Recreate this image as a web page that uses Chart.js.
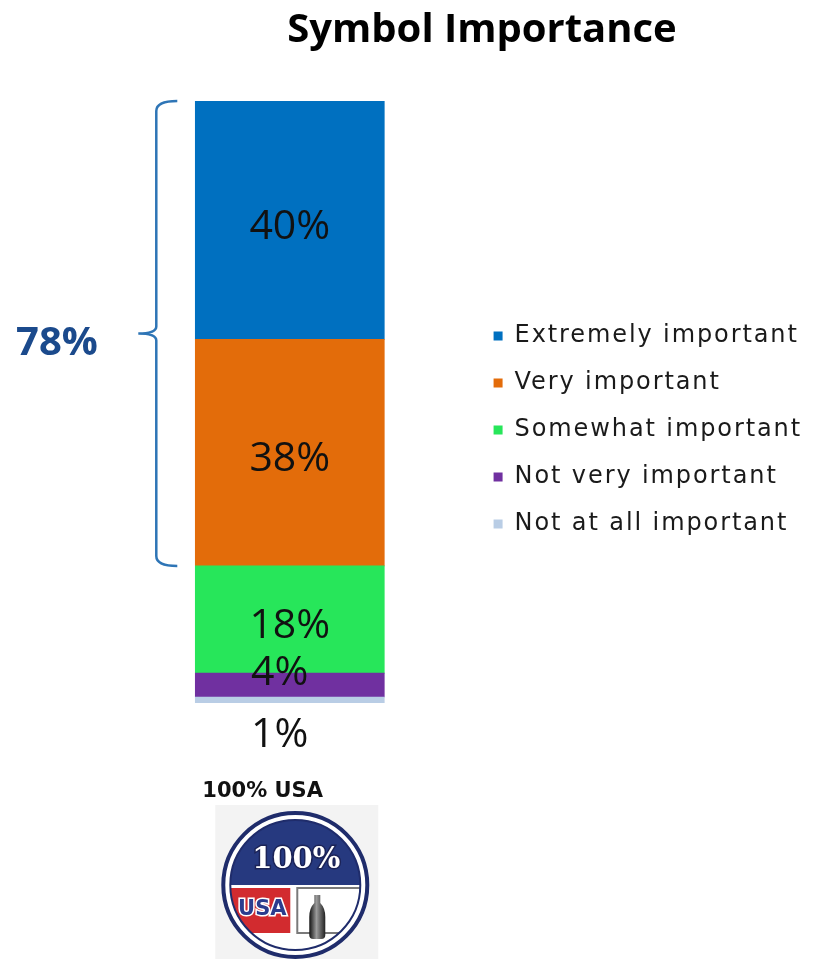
<!DOCTYPE html>
<html lang="en">
<head>
<meta charset="UTF-8">
<title>Symbol Importance</title>
<script src="https://cdn.jsdelivr.net/npm/chart.js"></script>
<style>
    html, body { margin: 0; padding: 0; background: #fff; }
    #wrap { width: 817px; height: 959px; }
</style>
</head>
<body>
<div id="wrap">
    <canvas id="symbolChart" width="817" height="959"></canvas>
</div>
<script>
// one bar, stacked bottom-up
const categories = ['100% USA'];
const levels = ['Not at all important', 'Not very important', 'Somewhat important', 'Very important', 'Extremely important'];
const shares = [1, 4, 18, 38, 40];
const levelColors = ['#B9CDE5', '#7030A0', '#27E65A', '#E36C0A', '#0070C0'];

const chartTitle = 'Symbol Importance';
const bracketFrom = 3; // bracket groups "Very" + "Extremely"
const legendSpacing = '1.9px';

const total = shares.reduce((a, b) => a + b, 0);

// text inside / next to each segment
const segmentLabels = {
    id: 'segmentLabels',
    afterDatasetsDraw(chart) {
        const ctx = chart.ctx;
        ctx.save();
        ctx.letterSpacing = '0px';
        ctx.font = '41px "Open Sans"';
        ctx.fillStyle = '#111';
        ctx.textAlign = 'center';
        ctx.textBaseline = 'middle';
        chart.data.datasets.forEach((ds, i) => {
            const bar = chart.getDatasetMeta(i).data[0];
            const h = bar.base - bar.y;
            let x = bar.x;
            let y = (bar.y + bar.base) / 2 + 7;
            if (h < 40) {
                x -= 10;
                y = i === 0 ? bar.base + 32 : bar.y;
            }
            ctx.fillText(ds.data[0] + '%', x, y);
        });
        ctx.restore();
    }
};

function drawBadge(ctx, cx, cy, r) {
    ctx.save();
    ctx.fillStyle = '#F3F3F3';
    ctx.fillRect(cx - 80, cy - 80, 163, 160);

    ctx.beginPath();
    ctx.arc(cx, cy, r, 0, Math.PI * 2);
    ctx.fillStyle = '#fff';
    ctx.fill();
    ctx.lineWidth = 4;
    ctx.strokeStyle = '#1F2C6B';
    ctx.stroke();

    const ri = r - 7;
    ctx.save();
    ctx.beginPath();
    ctx.arc(cx, cy, ri, 0, Math.PI * 2);
    ctx.clip();
    ctx.fillStyle = '#26397F';
    ctx.fillRect(cx - ri, cy - ri, 2 * ri, ri);
    ctx.fillStyle = '#D22B2F';
    ctx.fillRect(cx - ri, cy + 3, ri - 5, 45);
    // frame of the bottle panel
    ctx.strokeStyle = '#7a7a7a';
    ctx.lineWidth = 2;
    ctx.beginPath();
    ctx.moveTo(cx + r, cy + 3);
    ctx.lineTo(cx + 2, cy + 3);
    ctx.lineTo(cx + 2, cy + 48);
    ctx.lineTo(cx + r, cy + 48);
    ctx.stroke();
    ctx.restore();

    ctx.beginPath();
    ctx.arc(cx, cy, ri, 0, Math.PI * 2);
    ctx.lineWidth = 2;
    ctx.strokeStyle = '#1F2C6B';
    ctx.stroke();

    ctx.textAlign = 'center';
    ctx.textBaseline = 'middle';
    ctx.font = 'bold 29px "DejaVu Serif"';
    ctx.lineWidth = 3;
    ctx.strokeStyle = '#1B2357';
    ctx.strokeText('100%', cx + 1, cy - 25);
    ctx.fillStyle = '#fff';
    ctx.fillText('100%', cx + 1, cy - 25);

    ctx.font = 'bold 21px "DejaVu Sans"';
    ctx.lineWidth = 3;
    ctx.strokeStyle = '#fff';
    ctx.strokeText('USA', cx - 33, cy + 25);
    ctx.fillStyle = '#2B3C8E';
    ctx.fillText('USA', cx - 33, cy + 25);

    // bottle
    const bx = cx + 22, top = cy + 10;
    const g = ctx.createLinearGradient(bx - 8, 0, bx + 8, 0);
    g.addColorStop(0, '#111');
    g.addColorStop(0.45, '#9a9a9a');
    g.addColorStop(1, '#222');
    ctx.beginPath();
    ctx.moveTo(bx - 3, top);
    ctx.lineTo(bx + 3, top);
    ctx.lineTo(bx + 3, top + 8);
    ctx.quadraticCurveTo(bx + 8, top + 13, bx + 8, top + 22);
    ctx.lineTo(bx + 8, top + 40);
    ctx.quadraticCurveTo(bx + 8, top + 44, bx + 4, top + 44);
    ctx.lineTo(bx - 4, top + 44);
    ctx.quadraticCurveTo(bx - 8, top + 44, bx - 8, top + 40);
    ctx.lineTo(bx - 8, top + 22);
    ctx.quadraticCurveTo(bx - 8, top + 13, bx - 3, top + 8);
    ctx.closePath();
    ctx.fillStyle = g;
    ctx.fill();
    ctx.restore();
}

// title, bracket with the combined share, category label and badge
const decorations = {
    id: 'decorations',
    beforeLayout(chart) {
        chart.ctx.letterSpacing = legendSpacing; // legend measures spaced text
    },
    beforeDraw(chart) {
        chart.ctx.letterSpacing = legendSpacing;
    },
    afterDraw(chart) {
        const ctx = chart.ctx;
        ctx.save();
        ctx.letterSpacing = '0px';

        ctx.font = 'bold 40px "Open Sans"';
        ctx.fillStyle = '#000';
        ctx.textAlign = 'center';
        ctx.textBaseline = 'middle';
        ctx.fillText(chartTitle, 482, 31);

        const n = chart.data.datasets.length;
        const topBar = chart.getDatasetMeta(n - 1).data[0];
        const lowBar = chart.getDatasetMeta(bracketFrom).data[0];
        const y0 = topBar.y, y1 = lowBar.base, mid = (y0 + y1) / 2;
        const xl = topBar.x - topBar.width / 2 - 39;
        ctx.strokeStyle = '#2E75B6';
        ctx.lineWidth = 2.5;
        ctx.beginPath();
        ctx.moveTo(xl + 21, y0);
        ctx.quadraticCurveTo(xl, y0, xl, y0 + 10);
        ctx.lineTo(xl, mid - 7);
        ctx.quadraticCurveTo(xl, mid, xl - 18, mid);
        ctx.quadraticCurveTo(xl, mid, xl, mid + 7);
        ctx.lineTo(xl, y1 - 10);
        ctx.quadraticCurveTo(xl, y1, xl + 21, y1);
        ctx.stroke();

        let combined = 0;
        for (let i = bracketFrom; i < n; i++) combined += chart.data.datasets[i].data[0];
        ctx.font = 'bold 40px "Open Sans"';
        ctx.fillStyle = '#1B4A8C';
        ctx.fillText(combined + '%', 57, mid + 10);

        ctx.font = 'bold 21px "DejaVu Sans"';
        ctx.fillStyle = '#111';
        ctx.textAlign = 'left';
        ctx.textBaseline = 'alphabetic';
        ctx.fillText(chart.data.labels[0], topBar.x - topBar.width / 2 + 7, 797);

        drawBadge(ctx, topBar.x + 5.5, 885, 72);
        ctx.restore();
    }
};

const ctx = document.getElementById('symbolChart').getContext('2d');
new Chart(ctx, {
    type: 'bar',
    data: {
        labels: categories,
        datasets: levels.map((name, i) => ({
            label: name,
            data: [shares[i]],
            backgroundColor: levelColors[i],
            borderWidth: 0,
            barThickness: 189
        }))
    },
    options: {
        responsive: false,
        animation: false,
        events: [],
        layout: {
            padding: { top: 101, bottom: 256, left: 109, right: 5 }
        },
        scales: {
            x: { stacked: true, display: false },
            y: { stacked: true, display: false, min: 0, max: total }
        },
        plugins: {
            tooltip: { enabled: false },
            legend: {
                position: 'right',
                reverse: true,
                title: { display: true, text: '', font: { size: 12, lineHeight: 1 }, padding: { top: 44, bottom: 0 } },
                labels: {
                    boxWidth: 9,
                    boxHeight: 9,
                    padding: 23,
                    color: '#1a1a1a',
                    font: { family: '"DejaVu Sans", sans-serif', size: 24 }
                }
            }
        }
    },
    plugins: [segmentLabels, decorations]
});
</script>
</body>
</html>
